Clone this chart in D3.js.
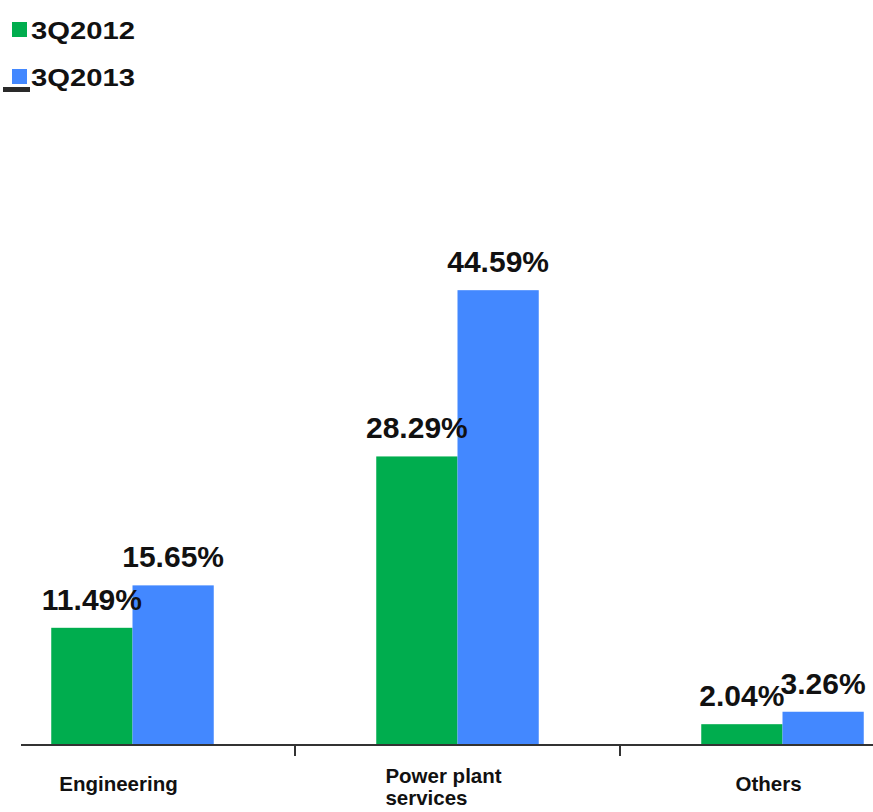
<!DOCTYPE html>
<html>
<head>
<meta charset="utf-8">
<script src="https://cdn.jsdelivr.net/npm/d3@7/dist/d3.min.js"></script>
<style>
  html, body { margin: 0; padding: 0; background: #fff; }
  svg { display: block; font-family: "Liberation Sans", Arial, sans-serif; }
</style>
</head>
<body>
<svg id="chart" width="873" height="812"></svg>
<script>
// Segment share of revenue, third quarter 2012 vs 2013
const categories = ["Engineering", "Power plant services", "Others"];
const categoryLines = [["Engineering"], ["Power plant", "services"], ["Others"]];
const seriesNames = ["3Q2012", "3Q2013"];
const values2012 = [11.49, 28.29, 2.04];
const values2013 = [15.65, 44.59, 3.26];
const seriesColors = ["#00AD4E", "#4388FF"];

const svg = d3.select("#chart");
const W = 873, H = 812;
const baseY = 745;

const series = [values2012, values2013];

// Category bands; the plot is wider than the view and starts off to the left
const x = d3.scaleBand().domain(categories).range([-30, 945]).padding(0);
const xs = d3.scaleBand().domain(seriesNames).range([0, x.bandwidth()]).paddingInner(0).paddingOuter(1);
const y = d3.scaleLinear().domain([0, 50]).range([baseY, 235]);

// Bars
const groups = svg.append("g").selectAll("g")
  .data(categories)
  .join("g")
  .attr("transform", d => `translate(${x(d)},0)`);

groups.selectAll("rect")
  .data((c, i) => seriesNames.map((s, j) => ({ s, j, v: series[j][i] })))
  .join("rect")
  .attr("x", d => xs(d.s))
  .attr("width", xs.bandwidth())
  .attr("y", d => y(d.v))
  .attr("height", d => baseY - y(d.v))
  .attr("fill", d => seriesColors[d.j]);

// Value labels
groups.selectAll("text.val")
  .data((c, i) => seriesNames.map((s, j) => ({ s, j, v: series[j][i] })))
  .join("text")
  .attr("class", "val")
  .attr("x", d => xs(d.s) + xs.bandwidth() / 2)
  .attr("y", d => y(d.v) - 18)
  .attr("text-anchor", "middle")
  .attr("font-size", 30)
  .attr("font-weight", "bold")
  .attr("fill", "#111")
  .text(d => d.v.toFixed(2) + "%");

// Category axis: line with ticks between the groups
const axisG = svg.append("g").attr("transform", `translate(0,${baseY})`);
axisG.append("line")
  .attr("x1", 21).attr("x2", W)
  .attr("stroke", "#333").attr("stroke-width", 2);
const boundaries = categories.slice(1).map(c => x(c));
axisG.selectAll("line.tick")
  .data(boundaries)
  .join("line")
  .attr("class", "tick")
  .attr("x1", d => d).attr("x2", d => d)
  .attr("y1", 0).attr("y2", 11)
  .attr("stroke", "#333").attr("stroke-width", 2);

// Category labels: left-aligned line blocks centred a little left of each group
categories.forEach((c, i) => {
  const lines = categoryLines[i];
  const cx = x(c) + x.bandwidth() / 2 - 14;
  const t = svg.append("text")
    .attr("font-size", 20.5)
    .attr("font-weight", "bold")
    .attr("fill", "#111");
  const lh = 22;
  const firstY = 791 - (lines.length - 1) * 8;
  lines.forEach((ln, k) => {
    t.append("tspan").attr("x", 0).attr("y", firstY + k * lh).text(ln);
  });
  const w = d3.max(t.selectAll("tspan").nodes(), n => n.getComputedTextLength());
  t.selectAll("tspan").attr("x", cx - w / 2);
});

// Legend
const legend = svg.append("g");
seriesNames.forEach((s, j) => {
  const ly = 39 + j * 47;
  legend.append("rect")
    .attr("x", 12).attr("y", ly - 17)
    .attr("width", 15).attr("height", 15)
    .attr("fill", seriesColors[j]);
  legend.append("text")
    .attr("x", 31).attr("y", ly)
    .attr("font-size", 24.5)
    .attr("font-weight", "bold")
    .attr("fill", "#111")
    .attr("textLength", 104)
    .attr("lengthAdjust", "spacingAndGlyphs")
    .text(s);
});
// small dark strip under the second legend key
legend.append("rect")
  .attr("x", 3).attr("y", 87).attr("width", 27).attr("height", 5)
  .attr("fill", "#2a2a2a");
</script>
</body>
</html>
